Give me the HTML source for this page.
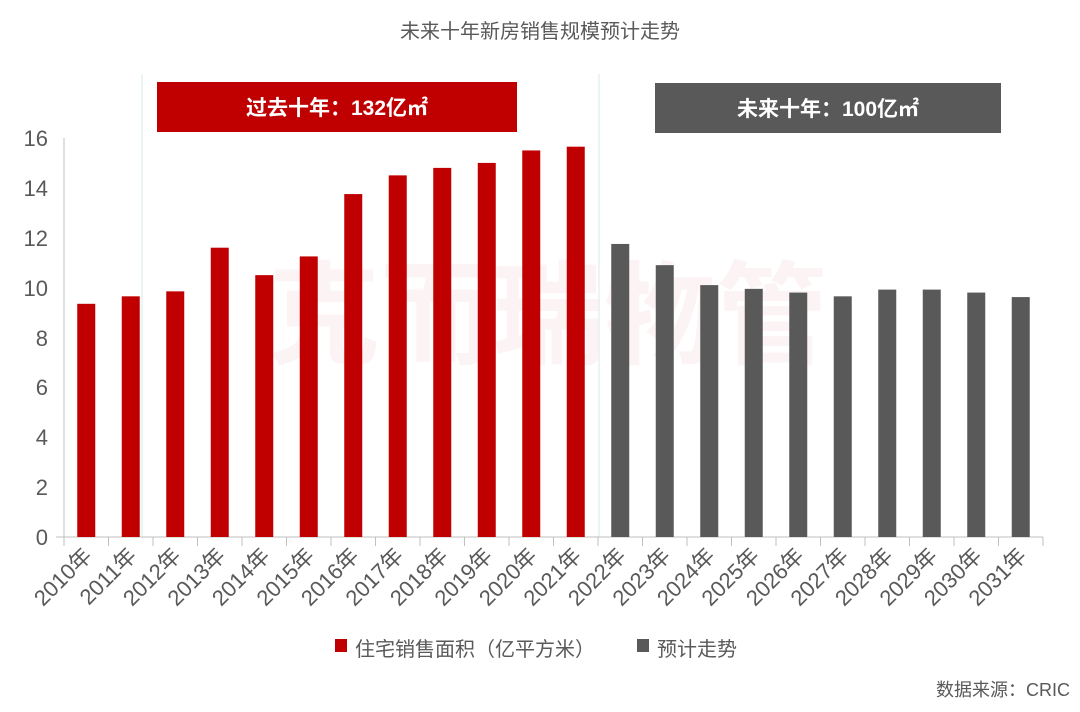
<!DOCTYPE html>
<html><head><meta charset="utf-8"><style>
html,body{margin:0;padding:0;background:#fff}
svg{display:block;font-family:"Liberation Sans","Noto Sans CJK SC",sans-serif}
</style></head><body>
<svg width="1080" height="712" viewBox="0 0 1080 712" xmlns="http://www.w3.org/2000/svg">
<text x="540" y="38" text-anchor="middle" font-size="20" fill="#595959">未来十年新房销售规模预计走势</text>
<text x="548" y="355" text-anchor="middle" font-size="112" fill="#c00000" fill-opacity="0.045" font-weight="bold">克而瑞物管</text>
<line x1="142" y1="74" x2="142" y2="537" stroke="#dbe8ec" stroke-width="1"/>
<line x1="599" y1="74" x2="599" y2="537" stroke="#dbe8ec" stroke-width="1"/>
<rect x="157" y="82" width="360" height="50" fill="#c00000"/>
<text x="337" y="115" text-anchor="middle" font-size="21" font-weight="bold" fill="#fff">过去十年：132亿㎡</text>
<rect x="655" y="83" width="346" height="50" fill="#595959"/>
<text x="828" y="116" text-anchor="middle" font-size="21" font-weight="bold" fill="#fff">未来十年：100亿㎡</text>
<g font-size="22" fill="#595959" text-anchor="end">
<text x="48" y="545">0</text><text x="48" y="495">2</text><text x="48" y="445">4</text><text x="48" y="395">6</text><text x="48" y="346">8</text><text x="48" y="296">10</text><text x="48" y="246">12</text><text x="48" y="196">14</text><text x="48" y="146">16</text>
</g>
<line x1="64" y1="138" x2="64" y2="537" stroke="#bfbfbf"/>
<line x1="56" y1="537" x2="1043" y2="537" stroke="#bfbfbf"/>
<g id="bars"></g>
<g id="ticks" stroke="#bfbfbf"></g>
<g id="labels" font-size="22" fill="#595959"></g>
<rect x="335" y="639" width="12" height="13" fill="#c00000"/>
<text x="355" y="656" font-size="20" fill="#595959">住宅销售面积（亿平方米）</text>
<rect x="637" y="639" width="12" height="13" fill="#595959"/>
<text x="657" y="656" font-size="20" fill="#595959">预计走势</text>
<text x="1070" y="696" text-anchor="end" font-size="18" fill="#595959">数据来源：CRIC</text>
<script>
var v=[9.35,9.65,9.85,11.6,10.5,11.25,13.75,14.5,14.8,15.0,15.5,15.65,11.75,10.9,10.1,9.95,9.8,9.65,9.92,9.92,9.8,9.62];
var ns="http://www.w3.org/2000/svg",b=document.getElementById('bars'),t=document.getElementById('ticks'),l=document.getElementById('labels');
for(var i=0;i<22;i++){var cx=64+44.5*i+22.25,h=v[i]*24.94;
var r=document.createElementNS(ns,'rect');r.setAttribute('x',cx-9);r.setAttribute('y',537-h);r.setAttribute('width',18);r.setAttribute('height',h);r.setAttribute('fill',i<12?'#c00000':'#595959');b.appendChild(r);
var ln=document.createElementNS(ns,'line');var tx=64+44.5*i;ln.setAttribute('x1',tx);ln.setAttribute('x2',tx);ln.setAttribute('y1',537);ln.setAttribute('y2',546);t.appendChild(ln);
var tx2=document.createElementNS(ns,'text');tx2.setAttribute('text-anchor','end');tx2.setAttribute('transform','translate('+(cx+7)+',557) rotate(-45)');tx2.textContent=(2010+i)+'年';l.appendChild(tx2);}
var ln=document.createElementNS(ns,'line');ln.setAttribute('x1',1043);ln.setAttribute('x2',1043);ln.setAttribute('y1',537);ln.setAttribute('y2',546);t.appendChild(ln);
</script>
</svg>
</body></html>
